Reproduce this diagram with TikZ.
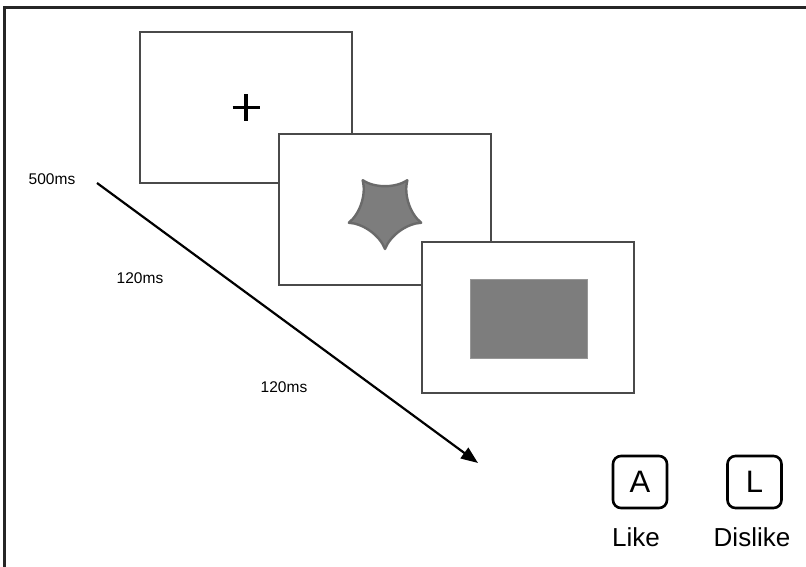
\documentclass[tikz,border=0pt]{standalone}
\usepackage{fontspec}
\setmainfont{Liberation Sans}
\usetikzlibrary{arrows.meta}
\definecolor{frameline}{HTML}{4A4A4A}
\definecolor{stimgray}{HTML}{7D7D7D}
\tikzset{
  screen/.style={draw=frameline, line width=1.7pt, fill=white, inner sep=0pt,
    minimum width=212pt, minimum height=151pt},
  keycap/.style={draw=black, line width=2.6pt, rounded corners=8pt, inner sep=0pt,
    minimum width=54pt, minimum height=52pt, font=\fontsize{31}{34}\selectfont},
  keylabel/.style={font=\fontsize{26}{30}\selectfont, inner sep=0pt},
  timelabel/.style={font=\fontsize{15.5}{18}\selectfont, inner sep=0pt},
}
\begin{document}
\begin{tikzpicture}[x=1pt, y=-1pt]
  \clip (0,0) rectangle (806,567);
  \fill[white] (0,0) rectangle (806,567);
  % outer frame (top and left edges are inside the page)
  \draw[line width=3pt, black!85] (4,580) -- (4,8) -- (820,8);

  % stacked screens
  \node[screen] (fix) at (246,107.5) {};
  \node[screen] (cue) at (385,209.5) {};
  \node[screen] (tgt) at (528,317.5) {};

  % fixation cross
  \draw[line width=3.4pt, black] ([xshift=-13.5pt]fix.center) -- ([xshift=13.5pt]fix.center);
  \draw[line width=3.4pt, black] ([yshift=-13.5pt]fix.center) -- ([yshift=13.5pt]fix.center);

  % concave star with rounded tips
  \begin{scope}[shift={(385,211)}]
    \draw[fill=stimgray, draw=stimgray!85!black, line width=2.4pt, line join=round]
      (90:38)  .. controls (102:25) and (150:25) .. (162:38)
               .. controls (174:25) and (222:25) .. (234:38)
               .. controls (246:25) and (294:25) .. (306:38)
               .. controls (318:25) and (366:25) .. (18:38)
               .. controls (30:25)  and (78:25)  .. (90:38) -- cycle;
  \end{scope}

  % target rectangle
  \node[fill=stimgray, draw=stimgray!80!white, line width=0.8pt, inner sep=0pt,
        minimum width=117pt, minimum height=79pt] (rect) at (528.5,318.5) {};

  % time axis
  \coordinate (tstart) at (97,183);
  \coordinate (tend) at (478,463);
  \draw[line width=2.2pt, -{Triangle[length=17pt, width=13pt]}] (tstart) -- (tend);

  \node[timelabel] (t1) at (52,179) {500ms};
  \node[timelabel] (t2) at (140,278) {120ms};
  \node[timelabel] (t3) at (284,387) {120ms};

  % response keys
  \node[keycap] (keyA) at (640,482) {A};
  \node[keycap] (keyL) at (754.5,482) {L};
  \node[keylabel] (like) at (636,537) {Like};
  \node[keylabel] (dislike) at (752,537) {Dislike};
\end{tikzpicture}
\end{document}
